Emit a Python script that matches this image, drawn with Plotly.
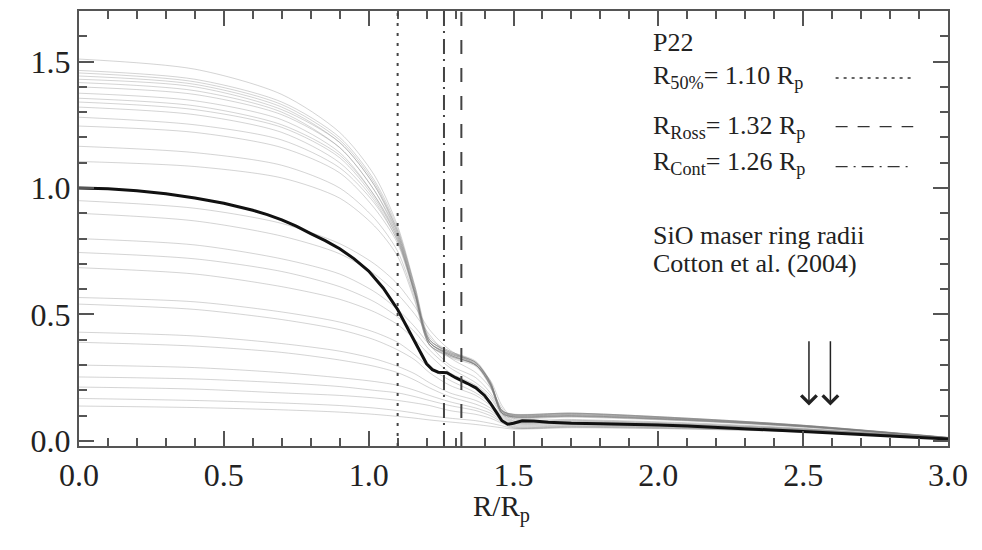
import plotly.graph_objects as go

# ---------------- data ----------------
BLACK_R = [0, 0.1, 0.2, 0.3, 0.4, 0.5, 0.6, 0.65, 0.7, 0.75, 0.8, 0.85, 0.9, 0.95, 1.0,
           1.05, 1.1, 1.15, 1.18, 1.2, 1.22, 1.24, 1.27, 1.3, 1.34, 1.37, 1.4, 1.42,
           1.44, 1.46, 1.48, 1.5, 1.53, 1.57, 1.62, 1.7, 1.8, 1.9, 2.0, 2.1, 2.2, 2.3,
           2.4, 2.5, 2.6, 2.7, 2.8, 2.9, 3.0]
BLACK_I = [1.0, 0.997, 0.989, 0.977, 0.961, 0.94, 0.912, 0.895, 0.874, 0.849, 0.82, 0.792,
           0.76, 0.72, 0.672, 0.605, 0.52, 0.41, 0.345, 0.305, 0.282, 0.272, 0.27, 0.25,
           0.228, 0.21, 0.18, 0.15, 0.115, 0.08, 0.066, 0.07, 0.08, 0.079, 0.074, 0.07,
           0.068, 0.066, 0.063, 0.059, 0.054, 0.049, 0.043, 0.037, 0.031, 0.025, 0.019,
           0.013, 0.008]

GREY_R = [0, 0.4, 0.7, 0.9, 1.02, 1.1, 1.16, 1.21, 1.28, 1.37, 1.42, 1.46, 1.5, 1.7, 2.1, 2.5, 3.0]

GREY_UPPER = [
    [1.51, 1.47, 1.37, 1.22, 1.05, 0.85, 0.61, 0.40, 0.355, 0.31, 0.23, 0.12, 0.105, 0.11, 0.09, 0.062, 0.014],
    [1.465, 1.43, 1.34, 1.20, 1.03, 0.84, 0.60, 0.39, 0.345, 0.305, 0.225, 0.115, 0.10, 0.105, 0.087, 0.06, 0.013],
    [1.455, 1.42, 1.33, 1.19, 1.02, 0.83, 0.60, 0.40, 0.35, 0.31, 0.23, 0.12, 0.102, 0.108, 0.088, 0.061, 0.013],
    [1.443, 1.41, 1.32, 1.18, 1.01, 0.82, 0.59, 0.39, 0.34, 0.30, 0.22, 0.11, 0.097, 0.10, 0.084, 0.058, 0.012],
    [1.43, 1.40, 1.31, 1.18, 1.01, 0.83, 0.61, 0.41, 0.355, 0.315, 0.235, 0.12, 0.105, 0.11, 0.09, 0.062, 0.014],
    [1.417, 1.385, 1.30, 1.16, 0.99, 0.81, 0.58, 0.38, 0.335, 0.30, 0.22, 0.11, 0.095, 0.098, 0.082, 0.057, 0.012],
    [1.40, 1.37, 1.29, 1.16, 0.99, 0.82, 0.59, 0.39, 0.345, 0.31, 0.23, 0.115, 0.1, 0.104, 0.086, 0.06, 0.013],
    [1.375, 1.345, 1.27, 1.14, 0.97, 0.80, 0.58, 0.39, 0.34, 0.30, 0.225, 0.11, 0.096, 0.1, 0.083, 0.058, 0.012],
    [1.355, 1.325, 1.25, 1.13, 0.97, 0.81, 0.59, 0.40, 0.35, 0.31, 0.23, 0.12, 0.104, 0.108, 0.088, 0.061, 0.013],
    [1.34, 1.31, 1.24, 1.12, 0.96, 0.80, 0.58, 0.38, 0.34, 0.30, 0.22, 0.11, 0.094, 0.097, 0.081, 0.056, 0.012],
    [1.32, 1.29, 1.22, 1.10, 0.95, 0.79, 0.58, 0.39, 0.345, 0.305, 0.23, 0.115, 0.1, 0.103, 0.085, 0.059, 0.013],
    [1.28, 1.25, 1.19, 1.08, 0.94, 0.79, 0.58, 0.40, 0.35, 0.31, 0.235, 0.12, 0.106, 0.11, 0.09, 0.062, 0.014],
    [1.245, 1.22, 1.16, 1.06, 0.92, 0.78, 0.57, 0.39, 0.34, 0.30, 0.225, 0.11, 0.096, 0.1, 0.083, 0.058, 0.012],
    [1.165, 1.14, 1.09, 1.00, 0.88, 0.75, 0.56, 0.38, 0.335, 0.30, 0.22, 0.11, 0.094, 0.097, 0.081, 0.056, 0.012],
    [1.105, 1.085, 1.04, 0.96, 0.85, 0.73, 0.55, 0.38, 0.33, 0.295, 0.215, 0.105, 0.09, 0.094, 0.079, 0.055, 0.011],
]

GREY_LOWER = [
    [0.95, 0.92, 0.86, 0.78, 0.70, 0.62, 0.53, 0.44, 0.36, 0.30, 0.24, 0.14, 0.09, 0.085, 0.072, 0.05, 0.011],
    [0.90, 0.87, 0.81, 0.74, 0.66, 0.58, 0.50, 0.42, 0.33, 0.27, 0.21, 0.13, 0.085, 0.082, 0.069, 0.048, 0.01],
    [0.80, 0.775, 0.72, 0.66, 0.59, 0.52, 0.45, 0.38, 0.30, 0.25, 0.19, 0.12, 0.08, 0.08, 0.067, 0.047, 0.01],
    [0.745, 0.72, 0.67, 0.61, 0.55, 0.49, 0.43, 0.36, 0.29, 0.23, 0.18, 0.11, 0.078, 0.077, 0.065, 0.046, 0.01],
    [0.685, 0.66, 0.61, 0.56, 0.51, 0.46, 0.40, 0.34, 0.27, 0.22, 0.17, 0.105, 0.075, 0.075, 0.064, 0.045, 0.01],
    [0.567, 0.55, 0.51, 0.47, 0.43, 0.39, 0.34, 0.29, 0.24, 0.19, 0.15, 0.10, 0.072, 0.072, 0.062, 0.044, 0.01],
    [0.541, 0.52, 0.48, 0.44, 0.40, 0.36, 0.32, 0.27, 0.22, 0.18, 0.14, 0.095, 0.07, 0.07, 0.06, 0.043, 0.01],
    [0.43, 0.415, 0.385, 0.355, 0.325, 0.295, 0.265, 0.23, 0.19, 0.16, 0.13, 0.09, 0.066, 0.066, 0.057, 0.041, 0.009],
    [0.39, 0.375, 0.35, 0.32, 0.295, 0.27, 0.24, 0.21, 0.175, 0.145, 0.12, 0.085, 0.062, 0.063, 0.055, 0.04, 0.009],
    [0.30, 0.29, 0.27, 0.25, 0.235, 0.22, 0.20, 0.18, 0.155, 0.13, 0.11, 0.08, 0.058, 0.06, 0.053, 0.039, 0.009],
    [0.253, 0.245, 0.23, 0.215, 0.20, 0.19, 0.175, 0.16, 0.14, 0.12, 0.10, 0.075, 0.055, 0.058, 0.051, 0.038, 0.009],
    [0.213, 0.205, 0.19, 0.18, 0.17, 0.16, 0.15, 0.14, 0.12, 0.105, 0.09, 0.07, 0.052, 0.056, 0.05, 0.037, 0.008],
    [0.168, 0.16, 0.15, 0.14, 0.13, 0.12, 0.11, 0.10, 0.09, 0.08, 0.07, 0.06, 0.05, 0.054, 0.048, 0.036, 0.008],
    [0.138, 0.132, 0.123, 0.114, 0.105, 0.097, 0.09, 0.083, 0.075, 0.065, 0.058, 0.052, 0.047, 0.052, 0.047, 0.035, 0.008],
]

R50, RROSS, RCONT = 1.10, 1.32, 1.26
MASER_R = [2.52, 2.594]

X_TICKS = [0.0, 0.5, 1.0, 1.5, 2.0, 2.5, 3.0]
Y_TICKS = [0.0, 0.5, 1.0, 1.5]

FONT = "Times New Roman, Liberation Serif, serif"
INK = "#222222"
AXC = "#555555"

fig = go.Figure()

for ys in GREY_UPPER + GREY_LOWER:
    fig.add_trace(go.Scatter(x=GREY_R, y=ys, mode="lines",
                             line=dict(color="rgba(120,120,120,0.32)", width=1,
                                       shape="spline", smoothing=0.8),
                             hoverinfo="skip", showlegend=False))

fig.add_trace(go.Scatter(x=BLACK_R, y=BLACK_I, mode="lines",
                         line=dict(color="#111111", width=3),
                         showlegend=False))

# vertical radius markers
for xv, dash in [(R50, "3px,7px"), (RCONT, "15px,6px,2px,5px"), (RROSS, "14px,14px")]:
    fig.add_shape(type="line", xref="x", yref="y domain", x0=xv, x1=xv, y0=0, y1=1,
                  line=dict(color="#444444", width=2, dash=dash))

# legend samples
for yv, dash in [(1.435, "3px,5px"), (1.243, "12px,10px"), (1.085, "12px,6px,2px,6px")]:
    fig.add_shape(type="line", xref="x", yref="y", x0=2.612, x1=2.88, y0=yv, y1=yv,
                  line=dict(color="#333333", width=1.3, dash=dash))

ann = [
    ("P22", 1.574),
    ("R<sub>50%</sub>= 1.10 R<sub>p</sub>", 1.44),
    ("R<sub>Ross</sub>= 1.32 R<sub>p</sub>", 1.242),
    ("R<sub>Cont</sub>= 1.26 R<sub>p</sub>", 1.10),
    ("SiO maser ring radii", 0.812),
    ("Cotton et al. (2004)", 0.70),
]
for txt, yv in ann:
    fig.add_annotation(x=1.975, y=yv, xref="x", yref="y", text=txt, showarrow=False,
                       xanchor="left", yanchor="middle",
                       font=dict(family=FONT, size=26, color=INK))

for xm in MASER_R:
    fig.add_annotation(x=xm, y=0.14, ax=xm, ay=0.40, xref="x", yref="y",
                       axref="x", ayref="y", text="", showarrow=True,
                       arrowhead=4, arrowsize=2.0, arrowwidth=1.5, arrowcolor="#222222")

# x-axis title
fig.add_annotation(x=1.46, y=0, xref="x", yref="paper", text="R/R<sub>p</sub>",
                   showarrow=False, xanchor="center", yanchor="middle", yshift=-62,
                   font=dict(family=FONT, size=29, color=INK))

axis_common = dict(showline=True, linecolor=AXC, linewidth=2, mirror="ticks",
                   ticks="inside", ticklen=15, tickwidth=2, tickcolor=AXC,
                   showgrid=False, zeroline=False, tickformat=".1f",
                   tickfont=dict(family=FONT, size=32, color=INK),
                   minor=dict(ticks="inside", ticklen=8, tickwidth=1.5, tickcolor=AXC, dtick=0.1))

fig.update_xaxes(range=[0, 3.0], tickvals=X_TICKS, **axis_common)
fig.update_yaxes(range=[-0.02, 1.70], tickvals=Y_TICKS, **axis_common)

# page body adds an offset, so the figure is sized/shifted accordingly
fig.update_layout(width=974, height=542, autosize=False,
                  margin=dict(l=71, r=34, t=1, b=104),
                  font=dict(family=FONT),
                  paper_bgcolor="white", plot_bgcolor="white", showlegend=False)

fig.write_html("out.html")
